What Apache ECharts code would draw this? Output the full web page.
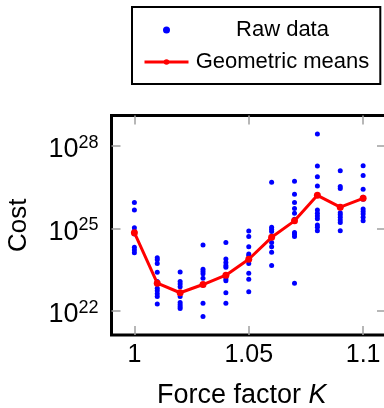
<!DOCTYPE html>
<html>
<head>
<meta charset="utf-8">
<script src="https://cdn.jsdelivr.net/npm/echarts@6/dist/echarts.min.js"></script>
<style>
  html, body { margin: 0; padding: 0; background: #fff; }
  #chart { width: 384px; height: 408px; }
</style>
</head>
<body>
<div id="chart"></div>
<script>
const FONT = 'Liberation Sans'

const forceFactors = [1.00, 1.01, 1.02, 1.03, 1.04, 1.05, 1.06, 1.07, 1.08, 1.09, 1.10]

// log10 of cost for every raw run, one list per force factor
const rawExponents = [
  [25.94, 25.67, 25.02, 24.90, 24.79, 24.31, 24.21, 24.11],
  [23.93, 23.85, 23.72, 23.40, 23.06, 22.97, 22.81, 22.72, 22.61, 22.51, 22.24],
  [23.41, 23.06, 22.97, 22.87, 22.65, 22.51, 22.29, 22.21, 22.14, 22.08],
  [24.39, 23.51, 23.42, 23.34, 23.18, 22.93, 22.27, 21.78],
  [24.48, 23.88, 23.75, 23.64, 23.58, 23.24, 23.15, 23.09, 22.65, 22.27],
  [24.90, 24.70, 24.33, 24.06, 24.00, 23.87, 23.72, 23.36, 23.14, 22.69],
  [26.68, 25.04, 24.96, 24.88, 24.67, 24.48, 24.33, 24.13, 23.64],
  [26.71, 26.24, 25.94, 25.72, 25.55, 25.33, 24.85, 24.78, 24.70, 23.00],
  [28.44, 27.27, 26.88, 26.54, 25.67, 25.55, 25.45, 25.35, 25.12, 25.04, 24.91],
  [27.10, 26.52, 26.45, 25.79, 25.57, 25.49, 25.40, 25.30, 25.21, 24.91],
  [27.28, 26.92, 26.42, 26.13, 26.06, 25.70, 25.61, 25.52, 25.40, 25.27],
]

// log10 of the geometric mean cost per force factor
const meanExponents = [24.84, 23.00, 22.65, 22.95, 23.29, 23.87, 24.67, 25.27, 26.20, 25.77, 26.09]

const xTicks = [1, 1.05, 1.1]
const yTicks = [22, 25, 28]

const tickStyle = { color: '#a0a0a0', width: 1.5 }

const chart = echarts.init(document.getElementById('chart'))

chart.setOption({
  animation: false,
  textStyle: { fontFamily: FONT },
  grid: {
    left: 111.5, top: 115.5, width: 274.5, height: 219.5,
    outerBoundsMode: 'none', containLabel: false,
    show: true, borderColor: '#000', borderWidth: 3, backgroundColor: 'transparent',
  },
  legend: {
    left: 132, top: 7,
    orient: 'vertical',
    itemWidth: 44, itemHeight: 7, itemGap: 10,
    padding: [12, 11, 11, 11],
    borderColor: '#000', borderWidth: 2, backgroundColor: '#fff',
    formatter: (name) => `{a|${name}}`,
    textStyle: {
      fontFamily: FONT, fontSize: 22, color: '#000',
      rich: { a: { width: 178, align: 'center', fontSize: 22, fontFamily: FONT } },
    },
    data: [
      { name: 'Raw data', icon: 'circle' },
      { name: 'Geometric means', lineStyle: { width: 3, color: '#ff0000' } },
    ],
  },
  xAxis: [
    {
      type: 'value', min: 0.99, max: 1.11, position: 'bottom',
      axisLine: { show: false }, splitLine: { show: false },
      axisTick: { inside: true, length: 9, lineStyle: tickStyle, customValues: xTicks },
      axisLabel: {
        customValues: xTicks, formatter: (v) => String(v),
        fontSize: 25, color: '#000', margin: 8, fontFamily: FONT,
      },
      name: 'Force factor {k|K}', nameLocation: 'middle', nameGap: 47,
      nameTextStyle: {
        fontSize: 27, color: '#000', fontFamily: FONT, padding: [0, 14, 0, 0],
        rich: { k: { fontSize: 27, fontStyle: 'italic', fontFamily: FONT, color: '#000' } },
      },
    },
    {
      type: 'value', min: 0.99, max: 1.11, position: 'top',
      axisLine: { show: false }, splitLine: { show: false }, axisLabel: { show: false },
      axisTick: { inside: true, length: 9, lineStyle: tickStyle, customValues: xTicks },
    },
  ],
  yAxis: [
    {
      type: 'value', min: 21.11, max: 29.11, position: 'left',
      axisLine: { show: false }, splitLine: { show: false },
      axisTick: { inside: true, length: 9, lineStyle: tickStyle, customValues: yTicks },
      axisLabel: {
        customValues: yTicks, margin: 13, padding: [8, 0, 0, 0],
        formatter: (v) => `{b|10}{s|${v}}`,
        rich: {
          b: { fontSize: 27, lineHeight: 32, color: '#000', fontFamily: FONT },
          s: { fontSize: 18, lineHeight: 32, verticalAlign: 'top', color: '#000', fontFamily: FONT },
        },
      },
      name: 'Cost', nameLocation: 'middle', nameGap: 80,
      nameTextStyle: { fontSize: 26, color: '#000', fontFamily: FONT },
    },
    {
      type: 'value', min: 21.11, max: 29.11, position: 'right',
      axisLine: { show: false }, splitLine: { show: false }, axisLabel: { show: false },
      axisTick: { inside: true, length: 9, lineStyle: tickStyle, customValues: yTicks },
    },
  ],
  series: [
    {
      name: 'Raw data', type: 'scatter',
      symbol: 'circle', symbolSize: 5,
      itemStyle: { color: '#0000ff', opacity: 1 },
      data: forceFactors.flatMap((k, i) => rawExponents[i].map((e) => [k, e])),
    },
    {
      name: 'Geometric means', type: 'line', z: 3,
      symbol: 'circle', symbolSize: 7, showSymbol: true,
      lineStyle: { color: '#ff0000', width: 3 },
      itemStyle: { color: '#ff0000' },
      data: forceFactors.map((k, i) => [k, meanExponents[i]]),
    },
  ],
})
</script>
</body>
</html>
